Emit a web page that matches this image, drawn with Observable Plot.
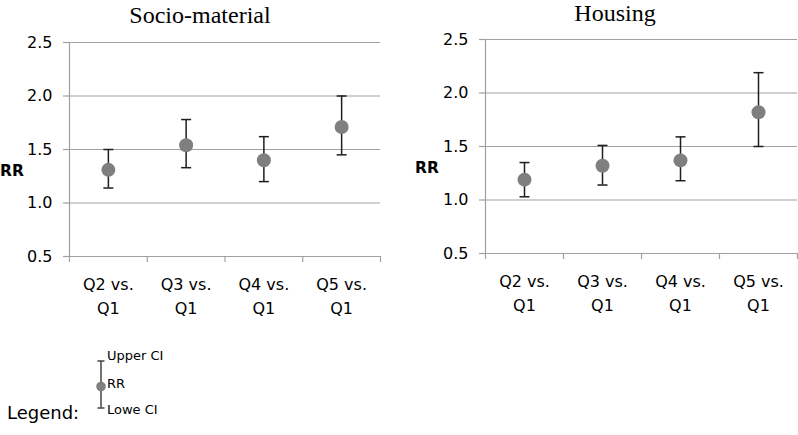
<!DOCTYPE html>
<html>
<head>
<meta charset="utf-8">
<script src="https://cdn.jsdelivr.net/npm/d3@7"></script>
<script src="https://cdn.jsdelivr.net/npm/@observablehq/plot@0.6"></script>
<style>
  html, body { margin: 0; padding: 0; background: #fff; }
  #root { position: relative; width: 798px; height: 435px; overflow: hidden; background: #fff; }
  #root > .panel { position: absolute; top: 0; }
  #overlay { position: absolute; left: 0; top: 0; pointer-events: none; }
</style>
</head>
<body>
<div id="root">
  <div class="panel" id="left" style="left:0"></div>
  <div class="panel" id="right" style="left:400px"></div>
  <svg id="overlay" width="798" height="435" xmlns="http://www.w3.org/2000/svg">
    <text x="200" y="23" text-anchor="middle" font-family="Liberation Serif, Times New Roman, serif" font-size="24">Socio-material</text>
    <text x="615" y="21" text-anchor="middle" font-family="Liberation Serif, Times New Roman, serif" font-size="24">Housing</text>
    <text x="12" y="171" text-anchor="middle" dominant-baseline="central" font-family="DejaVu Sans" font-weight="bold" font-size="15.5">RR</text>
    <text x="427" y="168" text-anchor="middle" dominant-baseline="central" font-family="DejaVu Sans" font-weight="bold" font-size="15.5">RR</text>
    <g id="legend" font-family="DejaVu Sans">
      <text x="7" y="419" font-size="18">Legend:</text>
      <line x1="101" x2="101" y1="361" y2="408" stroke="#444" stroke-width="1.5"/>
      <line x1="97.5" x2="104.5" y1="361" y2="361" stroke="#444" stroke-width="1.5"/>
      <line x1="97.5" x2="104.5" y1="408" y2="408" stroke="#444" stroke-width="1.5"/>
      <circle cx="101" cy="386.5" r="4.8" fill="#7f7f7f"/>
      <text x="107" y="360" font-size="13">Upper CI</text>
      <text x="107" y="388" font-size="13">RR</text>
      <text x="107" y="414" font-size="13">Lowe CI</text>
    </g>
  </svg>
</div>
<script>
// ---- data ----
const categories = ["Q2 vs.\nQ1", "Q3 vs.\nQ1", "Q4 vs.\nQ1", "Q5 vs.\nQ1"];
const socioRR    = [1.31, 1.54, 1.40, 1.71];
const socioLower = [1.14, 1.33, 1.20, 1.45];
const socioUpper = [1.50, 1.78, 1.62, 2.00];
const housingRR    = [1.19, 1.32, 1.37, 1.82];
const housingLower = [1.03, 1.14, 1.18, 1.50];
const housingUpper = [1.35, 1.51, 1.59, 2.19];
const yTicks = [0.5, 1.0, 1.5, 2.0, 2.5];

const gridColor = "#a0a0a0";
const barColor = "#1e1e1e";
const dotColor = "#7f7f7f";

const capSymbol = {
  draw(context, size) {
    const r = Math.sqrt(size / Math.PI);
    context.moveTo(-r, 0);
    context.lineTo(r, 0);
  }
};

function makeChart(rr, lo, hi, opts) {
  const data = categories.map((c, i) => ({x: i + 1, rr: rr[i], lo: lo[i], hi: hi[i]}));
  const centers = categories.map((c, i) => i + 1);
  const bounds = [0.5, ...centers.map(c => c + 0.5)];
  return Plot.plot({
    width: opts.width,
    height: 330,
    marginLeft: opts.marginLeft,
    marginRight: opts.marginRight,
    marginTop: opts.marginTop,
    marginBottom: 330 - opts.bottomY,
    style: {fontFamily: "DejaVu Sans", fontSize: "16px", color: "#000", background: "transparent", overflow: "visible"},
    x: {domain: [0.5, categories.length + 0.5]},
    y: {domain: [yTicks[0], yTicks[yTicks.length - 1]]},
    marks: [
      Plot.gridY(yTicks.slice(1), {stroke: gridColor, strokeOpacity: 1, strokeWidth: 1.2}),
      Plot.ruleX([0.5], {stroke: gridColor, strokeWidth: 1.2}),
      Plot.ruleY([yTicks[0]], {stroke: gridColor, strokeWidth: 1.2}),
      Plot.axisY(yTicks, {label: null, tickSize: 6, tickPadding: 11, tickFormat: d3.format(".1f"), stroke: gridColor, strokeWidth: 1.2, fill: "#000"}),
      Plot.axisX(bounds, {label: null, tickSize: 6, stroke: gridColor, strokeWidth: 1.2, fill: "none"}),
      Plot.axisX(centers, {label: null, tickSize: 0, tickPadding: 16, tickFormat: v => categories[v - 1], lineHeight: 1.5, fill: "#000"}),
      Plot.ruleX(data, {x: "x", y1: "lo", y2: "hi", stroke: barColor, strokeWidth: 1.5}),
      Plot.dot(data, {x: "x", y: "hi", symbol: capSymbol, r: 5, fill: "none", stroke: barColor, strokeWidth: 1.5}),
      Plot.dot(data, {x: "x", y: "lo", symbol: capSymbol, r: 5, fill: "none", stroke: barColor, strokeWidth: 1.5}),
      Plot.dot(data, {x: "x", y: "rr", r: 7, fill: dotColor, stroke: "none"})
    ]
  });
}

document.getElementById("left").append(
  makeChart(socioRR, socioLower, socioUpper, {width: 400, marginLeft: 69, marginRight: 20, marginTop: 42, bottomY: 256})
);
document.getElementById("right").append(
  makeChart(housingRR, housingLower, housingUpper, {width: 398, marginLeft: 85, marginRight: 1, marginTop: 39, bottomY: 253})
);
</script>
</body>
</html>
